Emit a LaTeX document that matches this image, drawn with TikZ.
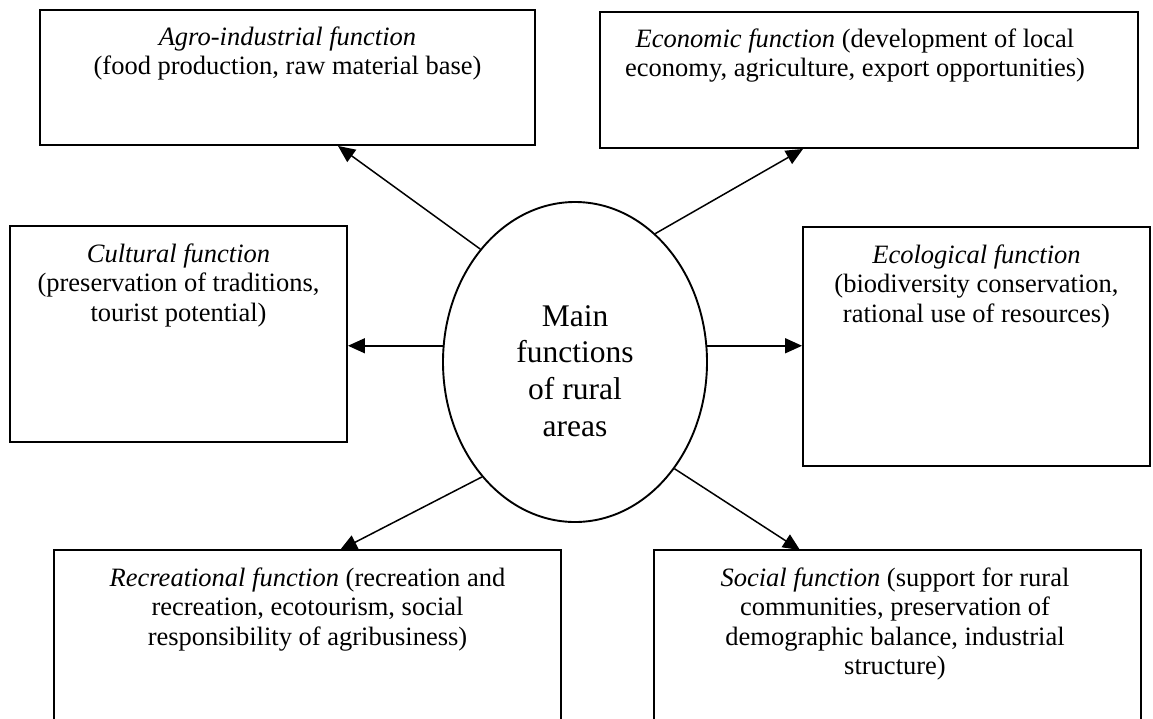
\documentclass[tikz,border=0pt]{standalone}
\usepackage{fontspec}
\setmainfont{Liberation Serif}
\usetikzlibrary{shapes.geometric,arrows.meta,calc}
\newcommand{\boxstrut}{\rule{0pt}{21pt}}
\newcommand{\hubstrut}{\rule{0pt}{24pt}}
\begin{document}
\begin{tikzpicture}[x=1pt,y=-1pt,
  boxnode/.style={draw, line width=1.9pt, rectangle, inner sep=0pt},
  openbox/.style={rectangle, inner sep=0pt, outer sep=0.95pt},
  sides/.style={line width=1.9pt},
  txt/.style={anchor=north, inner sep=0pt, align=center, font=\fontsize{26.5}{29.5}\selectfont},
  hub/.style={ellipse, draw, line width=1.9pt, inner sep=0pt, minimum width=264pt, minimum height=320pt},
  hubtxt/.style={anchor=north, inner sep=0pt, align=center, font=\fontsize{31.5}{36.7}\selectfont},
  arr/.style={line width=1.5pt, -{Triangle[length=17pt,width=15pt]}}]
\useasboundingbox[fill=white] (0,0) rectangle (1153,718);

% boxes
\node[boxnode, minimum width=495pt, minimum height=135pt] (agro) at (287.5,77.5) {};
\node[boxnode, minimum width=538pt, minimum height=136pt] (econ) at (869,80) {};
\node[boxnode, minimum width=337pt, minimum height=216pt] (cult) at (178.5,334) {};
\node[boxnode, minimum width=347pt, minimum height=239pt] (ecol) at (976.5,346.5) {};
\node[openbox, minimum width=505pt, minimum height=190pt] (rec) at (307.5,646) {};
\node[openbox, minimum width=485pt, minimum height=190pt] (soc) at (897.5,646) {};
\draw[sides] (rec.south west) -- (rec.north west) -- (rec.north east) -- (rec.south east);
\draw[sides] (soc.south west) -- (soc.north west) -- (soc.north east) -- (soc.south east);

% texts
\node[txt] (agrot) at (287.5,24) {\boxstrut\textit{Agro-industrial function}\\(food production, raw material base)};
\node[txt] (econt) at (855,26) {\boxstrut\textit{Economic function} (development of local\\economy, agriculture, export opportunities)};
\node[txt] (cultt) at (178.5,241) {\boxstrut\textit{Cultural function}\\(preservation of traditions,\\tourist potential)};
\node[txt] (ecolt) at (976.5,242) {\boxstrut\textit{Ecological function}\\(biodiversity conservation,\\rational use of resources)};
\node[txt] (rect) at (307.5,565) {\boxstrut\textit{Recreational function} (recreation and\\recreation, ecotourism, social\\responsibility of agribusiness)};
\node[txt] (soct) at (895,565) {\boxstrut\textit{Social function} (support for rural\\communities, preservation of\\demographic balance, industrial\\structure)};

% hub
\node[hub] (hub) at (575,362) {};
\node[hubtxt] (hubt) at (575,302) {\hubstrut Main\\functions\\of rural\\areas};

% arrows
\draw[arr] (hub.130.4) -- ($(agro.south)+(50.5,0)$);
\draw[arr] (hub.58.2) -- ($(econ.south)+(-66,0)$);
\draw[arr] (hub.173) -- (hub.173 -| cult.east);
\draw[arr] (hub.7) -- (hub.7 -| ecol.west);
\draw[arr] (hub.231) -- ($(rec.north)+(32.5,0)$);
\draw[arr] (hub.313.7) -- ($(soc.north)+(-97.5,0)$);
\end{tikzpicture}
\end{document}
